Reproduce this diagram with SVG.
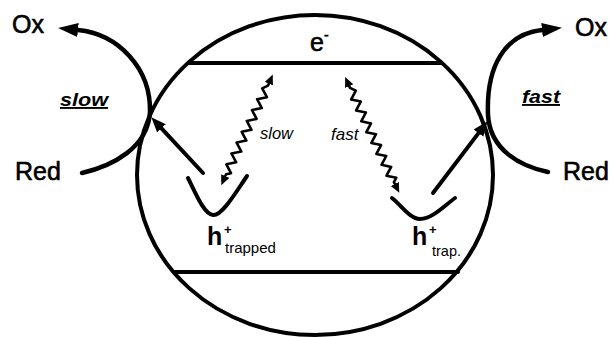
<svg xmlns="http://www.w3.org/2000/svg" width="612" height="337" viewBox="0 0 612 337">
<defs>
<style>
.t{font-family:"Liberation Sans",Arial,sans-serif;fill:#000}
.big{font-size:25px;stroke:#000;stroke-width:0.6}
.stk{fill:none;stroke:#000;stroke-linecap:round;stroke-linejoin:round}
.thick{stroke-width:4}
.wavy{stroke-width:2.6}
</style>
<marker id="headL" markerUnits="userSpaceOnUse" markerWidth="22" markerHeight="16" refX="0" refY="7" orient="auto-start-reverse">
<path d="M0,0 L20,7 L0,14 z" fill="#000"/>
</marker>
<marker id="headM" markerUnits="userSpaceOnUse" markerWidth="16" markerHeight="14" refX="0" refY="6" orient="auto-start-reverse">
<path d="M0,0 L15,6 L0,12 z" fill="#000"/>
</marker>
<marker id="headS" markerUnits="userSpaceOnUse" markerWidth="12" markerHeight="10" refX="0" refY="4.5" orient="auto-start-reverse">
<path d="M0,0 L10,4.5 L0,9 z" fill="#000"/>
</marker>
</defs>
<rect width="612" height="337" fill="#fff"/>

<g id="particle">
<ellipse cx="315" cy="175" rx="178" ry="160" class="stk thick"/>
<line x1="189" y1="63" x2="441" y2="63" class="stk thick"/>
<line x1="175" y1="272" x2="458" y2="272" class="stk thick"/>
<text class="t" x="310" y="51" font-size="25" stroke="#000" stroke-width="0.6">e<tspan font-size="14" dy="-11">-</tspan></text>
</g>

<g id="trap-left">
<path d="M188,178 C196,194 204,214 213,215 C222,216 236,192 247,176" class="stk thick"/>
<text class="t" x="207" y="245" font-size="25" font-weight="bold">h</text>
<text class="t" x="224" y="234" font-size="13" font-weight="bold">+</text>
<text class="t" x="225" y="253" font-size="15">trapped</text>
</g>

<g id="trap-right">
<path d="M392,198 C402,206 410,219 420,219 C432,219 444,206 455,198" class="stk thick"/>
<text class="t" x="412" y="245" font-size="25" font-weight="bold">h</text>
<text class="t" x="429" y="234" font-size="13" font-weight="bold">+</text>
<text class="t" x="432" y="256" font-size="14.5">trap.</text>
</g>

<g id="left-redox">
<text class="t big" x="12" y="33">Ox</text>
<text class="t big" x="15" y="180">Red</text>
<text class="t" x="60" y="106" font-size="19" font-weight="bold" font-style="italic" text-decoration="underline" textLength="48" lengthAdjust="spacingAndGlyphs">slow</text>
</g>

<g id="right-redox">
<text class="t big" x="575" y="36">Ox</text>
<text class="t big" x="563" y="180">Red</text>
<text class="t" x="522" y="103" font-size="19" font-weight="bold" font-style="italic" text-decoration="underline" textLength="38" lengthAdjust="spacingAndGlyphs">fast</text>
</g>

<g id="connectors">
<path d="M82,173 C112,166 148,148 150,112 C151,68 118,34 78,30" class="stk" stroke-width="4.5" marker-end="url(#headL)"/>
<path d="M548,172 C520,166 490,150 488,115 C486,66 505,34 542,30" class="stk" stroke-width="4.5" marker-end="url(#headL)"/>
<line x1="203" y1="173" x2="161.5" y2="128.3" class="stk thick" marker-end="url(#headM)"/>
<line x1="433" y1="193" x2="478.5" y2="133.1" class="stk thick" marker-end="url(#headM)"/>
<polyline class="stk wavy" marker-start="url(#headS)" marker-end="url(#headS)" points="225.3,176 226.1,174.2 231.0,173.2 226.4,164.3 236.2,162.3 231.5,153.5 241.3,151.5 236.6,142.6 246.4,140.6 241.7,131.8 251.5,129.8 246.8,120.9 256.6,118.9 252.0,110.1 261.8,108.1 257.1,99.2 266.9,97.2 262.2,88.4 268.0,85.6 268.8,83.75"/>
<polyline class="stk wavy" marker-start="url(#headS)" marker-end="url(#headS)" points="394.8,183.9 393.9,182.1 396.3,177.7 386.5,175.7 391.2,166.9 381.5,164.8 386.2,156.0 376.4,153.9 381.1,145.1 371.3,143.1 376.0,134.2 366.3,132.2 371.0,123.4 361.2,121.3 365.9,112.5 356.1,110.4 360.8,101.6 351.1,99.6 355.8,90.7 350.0,87.9 349.2,86.1"/>
<text class="t" x="260" y="139" font-size="16.5" font-style="italic">slow</text>
<text class="t" x="331" y="140" font-size="17" font-style="italic">fast</text>
</g>
</svg>
